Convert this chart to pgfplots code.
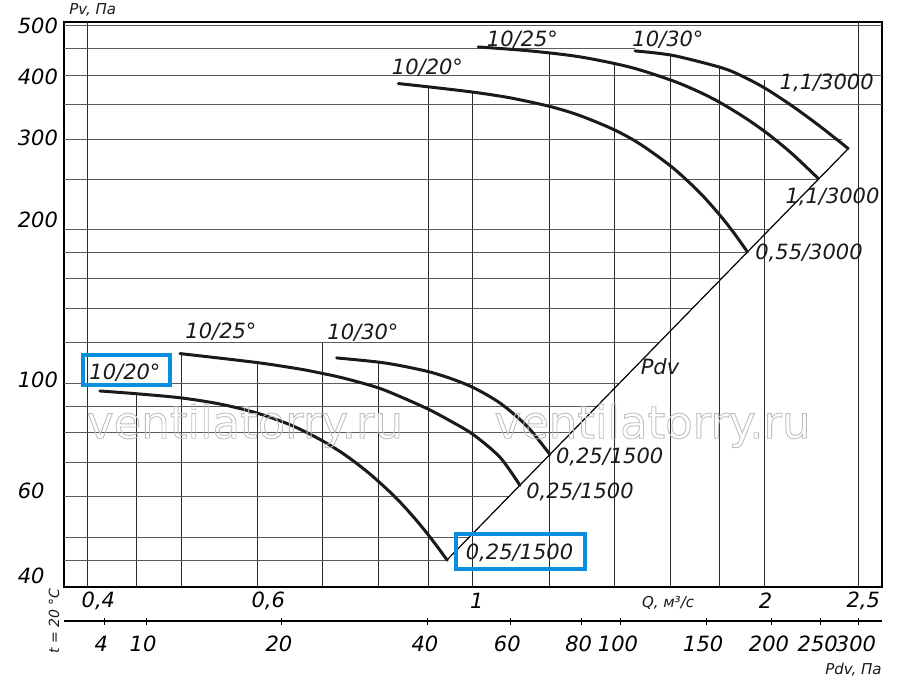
\documentclass[border=0pt]{standalone}
\usepackage{pgfplots}
\pgfplotsset{compat=1.18}
\usepackage{fontspec}
\setmainfont{DejaVu Sans}[ItalicFont={DejaVu Sans Oblique}]
\newfontfamily\wmfont{DejaVu Sans}
\definecolor{curve}{HTML}{1A1A1A}
\definecolor{gridh}{HTML}{5A5A5A}
\definecolor{gridv}{HTML}{2A2A2A}
\definecolor{boxblue}{HTML}{0A8EDF}
\definecolor{wm}{HTML}{BEBEBE}
\newcommand{\nf}{\fontsize{10.5}{12}\selectfont\itshape}
\newcommand{\smallf}{\fontsize{7.5}{9}\selectfont\itshape}
\newcommand{\vgl}[2]{\addplot[gridv, line width=0.5pt, forget plot] coordinates {(#1,40) (#1,#2)};}
\newcommand{\hgl}[2]{\addplot[gridh, line width=0.5pt, forget plot] coordinates {(0.3785,#1) (#2,#1)};}
\newcommand{\outlinetext}[1]{\special{pdf:literal direct 1 Tr 0.45 w}#1\special{pdf:literal direct 0 Tr}}
\begin{document}
\begin{tikzpicture}
\useasboundingbox (-32pt,-49pt) rectangle (418pt,293.5pt);
\begin{axis}[
  at={(0pt,0pt)}, anchor=south west,
  scale only axis, width=409pt, height=282.5pt,
  xmode=log, ymode=log,
  xmin=0.3785, xmax=2.646, ymin=40, ymax=508,
  axis line style={line width=1.2pt, black},
  tick style={draw=none},
  major tick length=0pt, minor tick length=0pt,
  xtick={0.4107,0.6151,1.0096,2.0057,2.5306},
  xticklabels={{0,4},{0,6},1,2,{2,5}},
  ytick={42.0,61.6,101.4,208.7,301.1,396.8,498.8},
  yticklabels={40,60,100,200,300,400,500},
  xticklabel style={font=\nf, anchor=center, yshift=-6.9pt, inner sep=0pt},
  yticklabel style={font=\nf, anchor=west, xshift=-23.3pt, inner sep=0pt},
]
% vertical grid lines (up to the curve envelope)
\vgl{0.4}{508}
\vgl{0.45}{95.5}
\vgl{0.5}{114.3}
\vgl{0.6}{109.8}
\vgl{0.7}{120}
\vgl{0.8}{110}
\vgl{0.9}{379}
\vgl{1.0}{370}
\vgl{1.2}{442}
\vgl{1.4}{418}
\vgl{1.6}{437}
\vgl{1.8}{415}
\vgl{2.0}{392}
\vgl{2.5}{508}
% horizontal grid lines (up to the Pdv line)
\hgl{45}{0.939}
\hgl{50}{0.991}
\hgl{60}{1.089}
\hgl{70}{1.179}
\hgl{80}{1.263}
\hgl{90}{1.342}
\hgl{100}{1.417}
\hgl{120}{1.557}
\hgl{140}{1.685}
\hgl{160}{1.806}
\hgl{180}{1.919}
\hgl{200}{2.026}
\hgl{250}{2.273}
\hgl{300}{2.405}
\hgl{350}{2.646}
\hgl{400}{2.646}
\hgl{450}{1.47}
\hgl{500}{2.646}
% Pdv line
\addplot[black, line width=0.6pt, forget plot] coordinates {(0.940,45.1) (2.4422,287.4)};
% upper family, 3000 rpm
\addplot[color=curve, line width=1.5pt, smooth, tension=0.5, line cap=round, forget plot] coordinates {(0.8381,385.1) (0.9035,379.2) (1.0,370.6) (1.0926,361.2) (1.2016,347.4) (1.2905,333.4) (1.3970,313.4) (1.4885,293.4) (1.6086,263.8) (1.7170,235.4) (1.8034,212.1) (1.8657,195.4) (1.9220,180.5)};
\addplot[color=curve, line width=1.5pt, smooth, tension=0.5, line cap=round, forget plot] coordinates {(1.0134,454.0) (1.1460,446.0) (1.2905,434.2) (1.4535,414.6) (1.6086,390.0) (1.7170,370.2) (1.8034,353.0) (1.9103,330.3) (2.0144,307.7) (2.1347,281.3) (2.2741,251.2)};
\addplot[color=curve, line width=1.5pt, smooth, tension=0.5, line cap=round, forget plot] coordinates {(1.4709,446.0) (1.6086,437.1) (1.8034,414.0) (1.8956,398.7) (2.0034,377.2) (2.1347,348.7) (2.2741,319.6) (2.4422,287.4)};
% lower family, 1500 rpm
\addplot[color=curve, line width=1.5pt, smooth, tension=0.5, line cap=round, forget plot] coordinates {(0.4122,96.6) (0.4469,95.5) (0.4986,93.7) (0.5483,91.1) (0.5984,87.5) (0.6478,83.0) (0.6956,77.7) (0.7381,72.5) (0.7834,66.5) (0.8313,60.0) (0.8718,54.4) (0.9078,49.5) (0.9414,45.1)};
\addplot[color=curve, line width=1.5pt, smooth, tension=0.5, line cap=round, forget plot] coordinates {(0.4986,114.3) (0.5984,109.8) (0.6634,106.6) (0.6968,104.7) (0.7352,102.4) (0.7962,98.2) (0.8415,94.2) (0.8999,89.0) (0.9475,84.5) (1.0014,79.4) (1.0670,71.7) (1.1189,63.2)};
\addplot[color=curve, line width=1.5pt, smooth, tension=0.5, line cap=round, forget plot] coordinates {(0.7237,112.1) (0.7962,110.1) (0.8415,108.3) (0.8999,105.4) (0.9475,102.3) (1.0014,98.1) (1.0670,91.5) (1.1369,82.6) (1.2016,72.6)};
\end{axis}
% secondary scale: dynamic pressure
\begin{axis}[
  at={(0pt,-17pt)}, anchor=south west,
  scale only axis, width=409pt, height=5pt,
  xmode=log, xmin=0.3785, xmax=2.646, ymin=0, ymax=1,
  axis x line=bottom, axis y line=none,
  x axis line style={-, line width=1.2pt, black},
  xtick={0.4166,0.4600,0.6355,0.8992,1.0935,1.2959,1.4226,1.7424,2.0370,2.2873,2.5049},
  xticklabels={4,10,20,40,60,80,100,150,200,250,300},
  xtick align=center, major tick length=3.5pt, minor tick length=0pt,
  every tick/.style={black, line width=0.5pt},
  xticklabel style={font=\nf, anchor=center, yshift=-9.6pt, xshift=-1.5pt, inner sep=0pt},
]
\addplot[draw=none, forget plot] coordinates {(1,0.5)};
\end{axis}
% texts in picture pixel coordinates
\begin{scope}[x=0.5pt, y=-0.5pt, shift={(-32pt,293.5pt)}]
  \node[text=wm, anchor=base, inner sep=0pt, font=\wmfont\fontsize{22.5}{26}\selectfont] at (245,438.3) {\outlinetext{ventilatorry.ru}};
  \node[text=wm, anchor=base, inner sep=0pt, font=\wmfont\fontsize{22.5}{26}\selectfont] at (652.5,438.3) {\outlinetext{ventilatorry.ru}};
  \begin{scope}[every node/.style={font=\nf, text=curve, anchor=base, inner sep=0pt}]
    \node at (125,380) {10/20°};
    \node at (221,338.3) {10/25°};
    \node at (363,340) {10/30°};
    \node at (427.5,75) {10/20°};
    \node at (522.5,46.7) {10/25°};
    \node at (668,46.7) {10/30°};
    \node at (826.7,90) {1,1/3000};
    \node at (832.5,203.3) {1,1/3000};
    \node at (809,260) {0,55/3000};
    \node at (609.7,463.3) {0,25/1500};
    \node at (580,498.3) {0,25/1500};
    \node at (519.5,560) {0,25/1500};
    \node at (660,375) {Pdv};
  \end{scope}
  \begin{scope}[every node/.style={font=\smallf, text=curve, inner sep=0pt}]
    \node[anchor=base west] at (69,15) {Pv, Па};
    \node[anchor=base west] at (641.7,608) {Q, м³/с};
    \node[anchor=base west] at (825,675) {Pdv, Па};
    \node[rotate=90, font=\fontsize{7}{8}\selectfont\itshape] at (54,621) {t = 20 °C};
  \end{scope}
  \draw[boxblue, line width=2pt] (83,354.7) rectangle (169.7,384.7);
  \draw[boxblue, line width=2pt] (456.2,533.8) rectangle (584.5,568.7);
\end{scope}
\end{tikzpicture}
\end{document}
